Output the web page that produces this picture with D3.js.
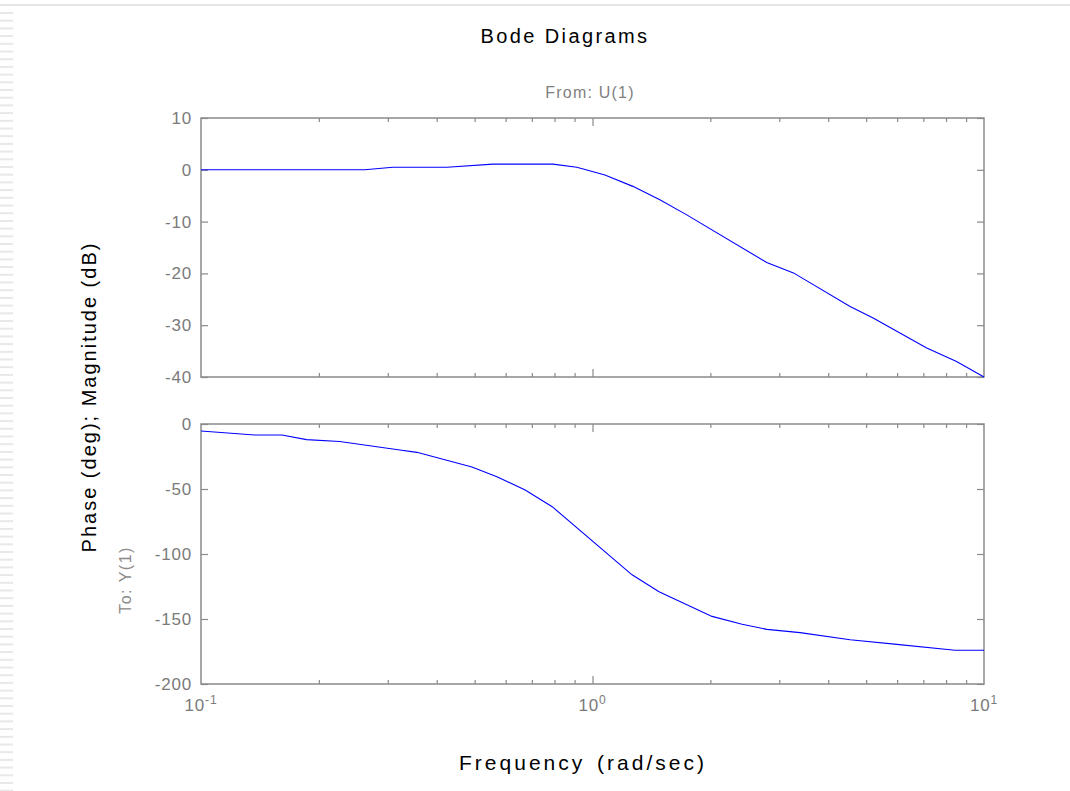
<!DOCTYPE html>
<html>
<head>
<meta charset="utf-8">
<script src="https://cdn.jsdelivr.net/npm/d3@7"></script>
<style>
  body { margin: 0; background: #fff; }
  svg { display: block; font-family: Arial, "Liberation Sans", sans-serif; }
</style>
</head>
<body>
<div id="bode"></div>
<script>
// magnitude curve (rad/sec, dB)
const freqMag = [0.1, 0.262, 0.309, 0.425, 0.557, 0.792, 0.912, 1.076, 1.268, 1.486, 1.741, 2.786, 3.26, 4.55, 5.21, 7.14, 8.51, 10]
const magDb = [0, 0, 0.5, 0.5, 1.1, 1.1, 0.5, -1, -3.2, -5.8, -8.7, -17.9, -19.9, -26.4, -28.6, -34.4, -37, -40]

// phase curve (rad/sec, deg)
const freqPhase = [0.1, 0.137, 0.161, 0.186, 0.226, 0.322, 0.356, 0.492, 0.570, 0.673, 0.789, 1.262, 1.479, 2.02, 2.41, 2.79, 3.39, 4.55, 5.99, 8.43, 10]
const phaseDeg = [-5.4, -8.5, -8.5, -12, -13.5, -20, -21.8, -33, -40.5, -50.8, -63.6, -116, -129, -148, -154, -158, -160.5, -166, -169.5, -174, -174]

const magTicks = [10, 0, -10, -20, -30, -40]
const phaseTicks = [0, -50, -100, -150, -200]
const decades = [0.1, 1, 10]
const decadeExp = ['-1', '0', '1']

const W = 1070
const H = 791
const plotLeft = 201
const plotRight = 984

const svg = d3
  .select('#bode')
  .append('svg')
  .attr('width', W)
  .attr('height', H)

// page decoration: top rule and dashed left strip
svg.append('line')
  .attr('x1', 0).attr('x2', W)
  .attr('y1', 5).attr('y2', 5)
  .attr('stroke', '#e6e6e6')
  .attr('stroke-width', 2)

svg.append('g')
  .selectAll('line')
  .data(d3.range(13, H, 7.7))
  .enter()
  .append('line')
  .attr('x1', 0).attr('x2', 13)
  .attr('y1', d => d).attr('y2', d => d)
  .attr('stroke', '#e8e8e8')
  .attr('stroke-width', 2)

const x = d3.scaleLog().domain([0.1, 10]).range([plotLeft, plotRight])

const minorTicks = []
decades.slice(0, 2).forEach(dec => {
  for (let k = 2; k <= 9; k++) minorTicks.push(dec * k)
})

function panel(top, bottom, yDomain, yTicks, xs, ys) {
  const y = d3.scaleLinear().domain(yDomain).range([bottom, top])
  const g = svg.append('g')

  // frame
  g.append('rect')
    .attr('x', plotLeft)
    .attr('y', top)
    .attr('width', plotRight - plotLeft)
    .attr('height', bottom - top)
    .attr('fill', 'none')
    .attr('stroke', '#8a8a8a')
    .attr('stroke-width', 1.5)

  // y ticks, left with labels
  const yLeft = g.append('g')
    .attr('class', 'y-axis')
    .attr('transform', 'translate(' + plotLeft + ',0)')
    .call(d3.axisLeft(y).tickValues(yTicks).tickSize(-7).tickPadding(9).tickFormat(d => String(d)))
  // right side ticks
  const yRight = g.append('g')
    .attr('transform', 'translate(' + plotRight + ',0)')
    .call(d3.axisRight(y).tickValues(yTicks).tickSize(-7).tickFormat(''))

  // x ticks top and bottom
  const xb1 = g.append('g').attr('transform', 'translate(0,' + bottom + ')')
    .call(d3.axisBottom(x).tickValues(minorTicks).tickSize(-4).tickFormat(''))
  const xb2 = g.append('g').attr('transform', 'translate(0,' + bottom + ')')
    .call(d3.axisBottom(x).tickValues([1]).tickSize(-8).tickFormat(''))
  const xt1 = g.append('g').attr('transform', 'translate(0,' + top + ')')
    .call(d3.axisTop(x).tickValues(minorTicks).tickSize(-4).tickFormat(''))
  const xt2 = g.append('g').attr('transform', 'translate(0,' + top + ')')
    .call(d3.axisTop(x).tickValues([1]).tickSize(-8).tickFormat(''))

  ;[yLeft, yRight, xb1, xb2, xt1, xt2].forEach(a => {
    a.select('.domain').remove()
    a.selectAll('line').attr('stroke', '#8a8a8a').attr('stroke-width', 1.2)
  })

  yLeft.selectAll('text')
    .attr('font-size', 17)
    .attr('letter-spacing', 0.8)
    .attr('fill', '#7a7a7a')
    .attr('font-family', 'Arial, "Liberation Sans", sans-serif')

  const line = d3.line()
    .x(d => x(d[0]))
    .y(d => y(d[1]))

  g.append('path')
    .datum(d3.zip(xs, ys))
    .attr('d', line)
    .attr('fill', 'none')
    .attr('stroke', '#0000ff')
    .attr('stroke-width', 1.1)
}

panel(118, 377, [-40, 10], magTicks, freqMag, magDb)
panel(424, 684, [-200, 0], phaseTicks, freqPhase, phaseDeg)

// decade labels
const xl = svg.append('g')
  .selectAll('text')
  .data(decades)
  .enter()
  .append('text')
  .attr('x', d => x(d))
  .attr('y', 711)
  .attr('text-anchor', 'middle')
  .attr('fill', '#7a7a7a')
  .attr('font-size', 17)
  .attr('letter-spacing', 0.8)

xl.append('tspan').text('10')
xl.append('tspan')
  .attr('dy', -7)
  .attr('font-size', 12)
  .text((d, i) => decadeExp[i])

// titles
svg.append('text')
  .attr('x', 565)
  .attr('y', 43)
  .attr('text-anchor', 'middle')
  .attr('font-size', 20)
  .attr('letter-spacing', 2.4)
  .attr('fill', '#000')
  .text('Bode Diagrams')

svg.append('text')
  .attr('x', 590)
  .attr('y', 98)
  .attr('text-anchor', 'middle')
  .attr('font-size', 16)
  .attr('letter-spacing', 1.2)
  .attr('fill', '#7f7f7f')
  .text('From: U(1)')

svg.append('text')
  .attr('transform', 'translate(96,397) rotate(-90)')
  .attr('text-anchor', 'middle')
  .attr('font-size', 20)
  .attr('letter-spacing', 2)
  .attr('fill', '#000')
  .text('Phase (deg); Magnitude (dB)')

svg.append('text')
  .attr('transform', 'translate(131,580) rotate(-90)')
  .attr('text-anchor', 'middle')
  .attr('font-size', 16)
  .attr('letter-spacing', 1.5)
  .attr('fill', '#8a8a8a')
  .text('To: Y(1)')

svg.append('text')
  .attr('x', 583)
  .attr('y', 770)
  .attr('text-anchor', 'middle')
  .attr('font-size', 21)
  .attr('letter-spacing', 3)
  .attr('word-spacing', 3)
  .attr('fill', '#000')
  .text('Frequency (rad/sec)')
</script>
</body>
</html>
